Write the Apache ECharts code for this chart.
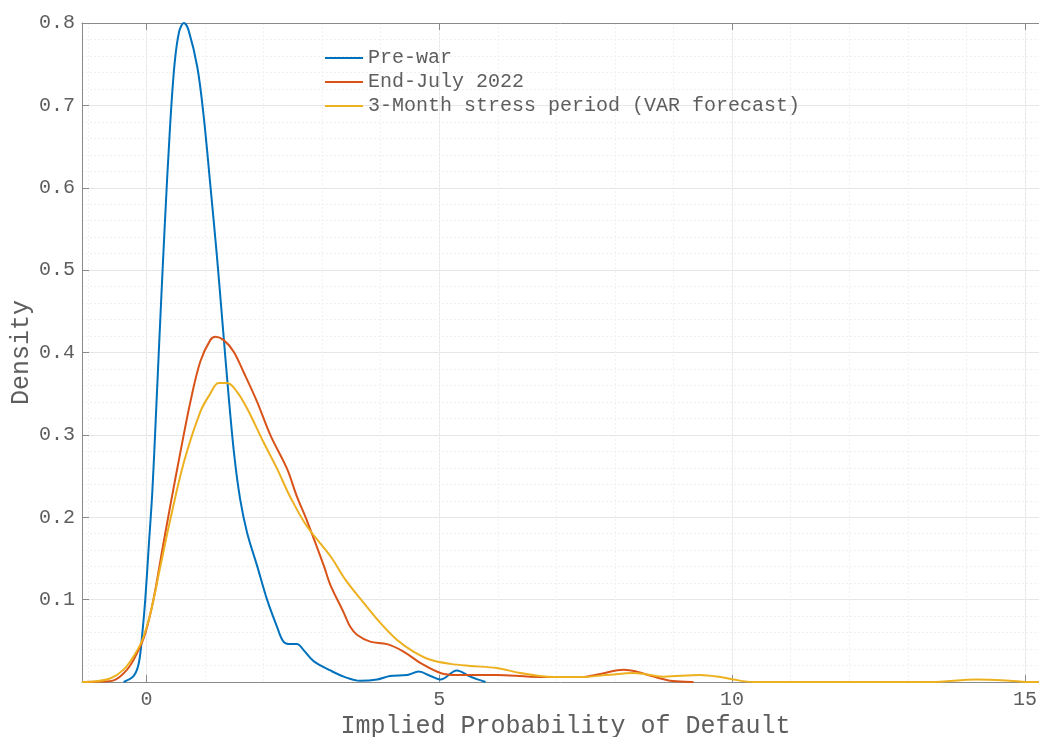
<!DOCTYPE html>
<html>
<head>
<meta charset="utf-8">
<script src="https://cdn.jsdelivr.net/npm/echarts@6/dist/echarts.min.js"></script>
<style>
html,body{margin:0;padding:0;background:#fff;}
#chart{width:1039px;height:737px;}
</style>
</head>
<body>
<div id="chart"></div>
<script>
const seriesNames = ['Pre-war', 'End-July 2022', '3-Month stress period (VAR forecast)'];
const xTickValues = [0, 5, 10, 15];
const yTickLabels = ['0.1', '0.2', '0.3', '0.4', '0.5', '0.6', '0.7', '0.8'];

const preWar = [
  [-0.39,0], [-0.22,0.007], [-0.13,0.023], [-0.07,0.059], [-0.02,0.1], [0.04,0.165], [0.1,0.23],
  [0.16,0.32], [0.23,0.43], [0.31,0.55], [0.4,0.67], [0.48,0.75], [0.56,0.79], [0.64,0.8],
  [0.72,0.791], [0.87,0.746], [0.98,0.685], [1.09,0.604], [1.2,0.52], [1.3,0.435], [1.4,0.35],
  [1.5,0.275], [1.6,0.222], [1.72,0.181], [1.89,0.141], [2.06,0.1], [2.23,0.067], [2.34,0.049],
  [2.46,0.046], [2.57,0.046], [2.68,0.039], [2.86,0.025], [3.14,0.014], [3.37,0.0065], [3.65,0.0015],
  [3.94,0.003], [4.16,0.0073], [4.45,0.0085], [4.65,0.0126], [4.85,0.0073], [5.02,0.003], [5.3,0.014],
  [5.53,0.0065], [5.79,0]
];
const endJuly = [
  [-1.1,0], [-0.78,0.0005], [-0.56,0.002], [-0.33,0.015], [-0.16,0.035], [-0.02,0.059], [0.12,0.1],
  [0.27,0.16], [0.41,0.215], [0.58,0.279], [0.75,0.34], [0.92,0.389], [1.09,0.415],
  [1.18,0.419], [1.32,0.415], [1.49,0.401], [1.66,0.376], [1.89,0.34], [2.12,0.299], [2.4,0.259],
  [2.57,0.225], [2.74,0.196], [3.03,0.141], [3.14,0.118], [3.37,0.084], [3.48,0.067], [3.6,0.057],
  [3.82,0.049], [4.11,0.046], [4.39,0.037], [4.68,0.023], [5.02,0.011], [5.3,0.0085], [5.98,0.0085],
  [6.55,0.0065], [7.41,0.006], [7.75,0.0098], [8.15,0.015], [8.37,0.0126], [8.66,0.0065],
  [8.94,0.0016], [9.34,0]
];
const stress = [
  [-1.1,0], [-0.9,0.0005], [-0.61,0.0045], [-0.39,0.015], [-0.22,0.031], [-0.07,0.051], [0.07,0.084],
  [0.24,0.141], [0.41,0.198], [0.64,0.267], [0.92,0.328], [1.09,0.35], [1.23,0.363], [1.38,0.363],
  [1.55,0.352], [1.72,0.332], [2.0,0.291], [2.23,0.259], [2.46,0.224], [2.74,0.189], [3.14,0.153],
  [3.4,0.124], [3.71,0.096], [3.99,0.072], [4.28,0.051], [4.56,0.037], [4.85,0.027], [5.19,0.022],
  [5.53,0.0195], [5.98,0.017], [6.38,0.011], [6.84,0.0065], [7.41,0.006], [7.86,0.0085], [8.32,0.011],
  [8.83,0.0065], [9.45,0.0085], [9.8,0.006], [10.02,0.003], [10.36,0], [13.4,0], [14.17,0.003],
  [14.74,0.0016], [15.03,0], [15.24,0]
];

const FONT = 'Liberation Mono';
const TXT = '#5e5e5e';
const X_MIN = -1.1, X_MAX = 15.24;

const chart = echarts.init(document.getElementById('chart'), null, {renderer: 'canvas'});
const isXTick = v => xTickValues.some(t => Math.abs(t - v) < 1e-6);

chart.setOption({
  animation: false,
  backgroundColor: '#fff',
  color: ['#0072BD', '#D95319', '#EDB120'],
  grid: {left: 82, top: 23, right: 0, bottom: 55, containLabel: false, outerBoundsMode: 'none'},
  legend: {
    orient: 'vertical', left: 320, top: 41,
    icon: 'rect', itemWidth: 38, itemHeight: 2, itemGap: 0,
    textStyle: {fontFamily: FONT, fontSize: 20, color: TXT, lineHeight: 24},
    data: seriesNames
  },
  xAxis: [
    {
      type: 'value', position: 'bottom', min: X_MIN, max: X_MAX,
      minInterval: 5, maxInterval: 5, splitNumber: 3,
      name: 'Implied Probability of Default', nameLocation: 'middle', nameGap: 32,
      nameMoveOverlap: false,
      nameTextStyle: {fontFamily: FONT, fontSize: 25, color: TXT, padding: [0, 0, 0, 10]},
      axisLine: {show: true, onZero: false, lineStyle: {color: '#8a8a8a', width: 1}},
      axisTick: {show: true, inside: true, length: 7, lineStyle: {color: '#8a8a8a'}},
      axisLabel: {fontFamily: FONT, fontSize: 20, color: TXT, margin: 8,
        formatter: v => isXTick(v) ? String(Math.round(v)) : ''},
      splitLine: {show: true, lineStyle: {color: '#e6e6e6', width: 1}}
    },
    {
      type: 'value', position: 'top', min: X_MIN, max: X_MAX,
      minInterval: 5, maxInterval: 5, splitNumber: 3,
      axisLine: {show: true, onZero: false, lineStyle: {color: '#8a8a8a', width: 1}},
      axisTick: {show: true, inside: true, length: 7, lineStyle: {color: '#8a8a8a'}},
      axisLabel: {show: false},
      splitLine: {show: false}
    },
    {
      type: 'value', position: 'bottom', min: X_MIN, max: X_MAX,
      minInterval: 1, maxInterval: 1, splitNumber: 16,
      axisLine: {show: false}, axisTick: {show: false}, axisLabel: {show: false},
      splitLine: {show: true, lineStyle: {color: '#f1f1f1', width: 1, type: [2, 2]}}
    }
  ],
  yAxis: {
    type: 'value', min: 0, max: 0.8, interval: 0.1,
    name: 'Density', nameLocation: 'middle', nameGap: 48, nameRotate: 90,
    nameMoveOverlap: false,
    nameTextStyle: {fontFamily: FONT, fontSize: 25, color: TXT},
    axisLine: {show: true, onZero: false, lineStyle: {color: '#8a8a8a', width: 1}},
    axisTick: {show: true, inside: true, length: 7, lineStyle: {color: '#8a8a8a'}},
    axisLabel: {fontFamily: FONT, fontSize: 20, color: TXT, margin: 7,
      formatter: v => { const i = Math.round(v * 10) - 1; return i >= 0 ? yTickLabels[i] : ''; }},
    splitLine: {show: true, lineStyle: {color: '#e6e6e6', width: 1}},
    minorTick: {show: false, splitNumber: 5},
    minorSplitLine: {show: true, lineStyle: {color: '#f1f1f1', width: 1, type: [2, 2]}}
  },
  series: [
    {name: seriesNames[0], type: 'line', data: preWar, xAxisIndex: 0, showSymbol: false, symbol: 'none',
      smooth: 0.35, lineStyle: {width: 2}, clip: true},
    {name: seriesNames[1], type: 'line', data: endJuly, xAxisIndex: 0, showSymbol: false, symbol: 'none',
      smooth: 0.35, lineStyle: {width: 2}, clip: true},
    {name: seriesNames[2], type: 'line', data: stress, xAxisIndex: 0, showSymbol: false, symbol: 'none',
      smooth: 0.35, lineStyle: {width: 2}, clip: true}
  ]
});
</script>
</body>
</html>
